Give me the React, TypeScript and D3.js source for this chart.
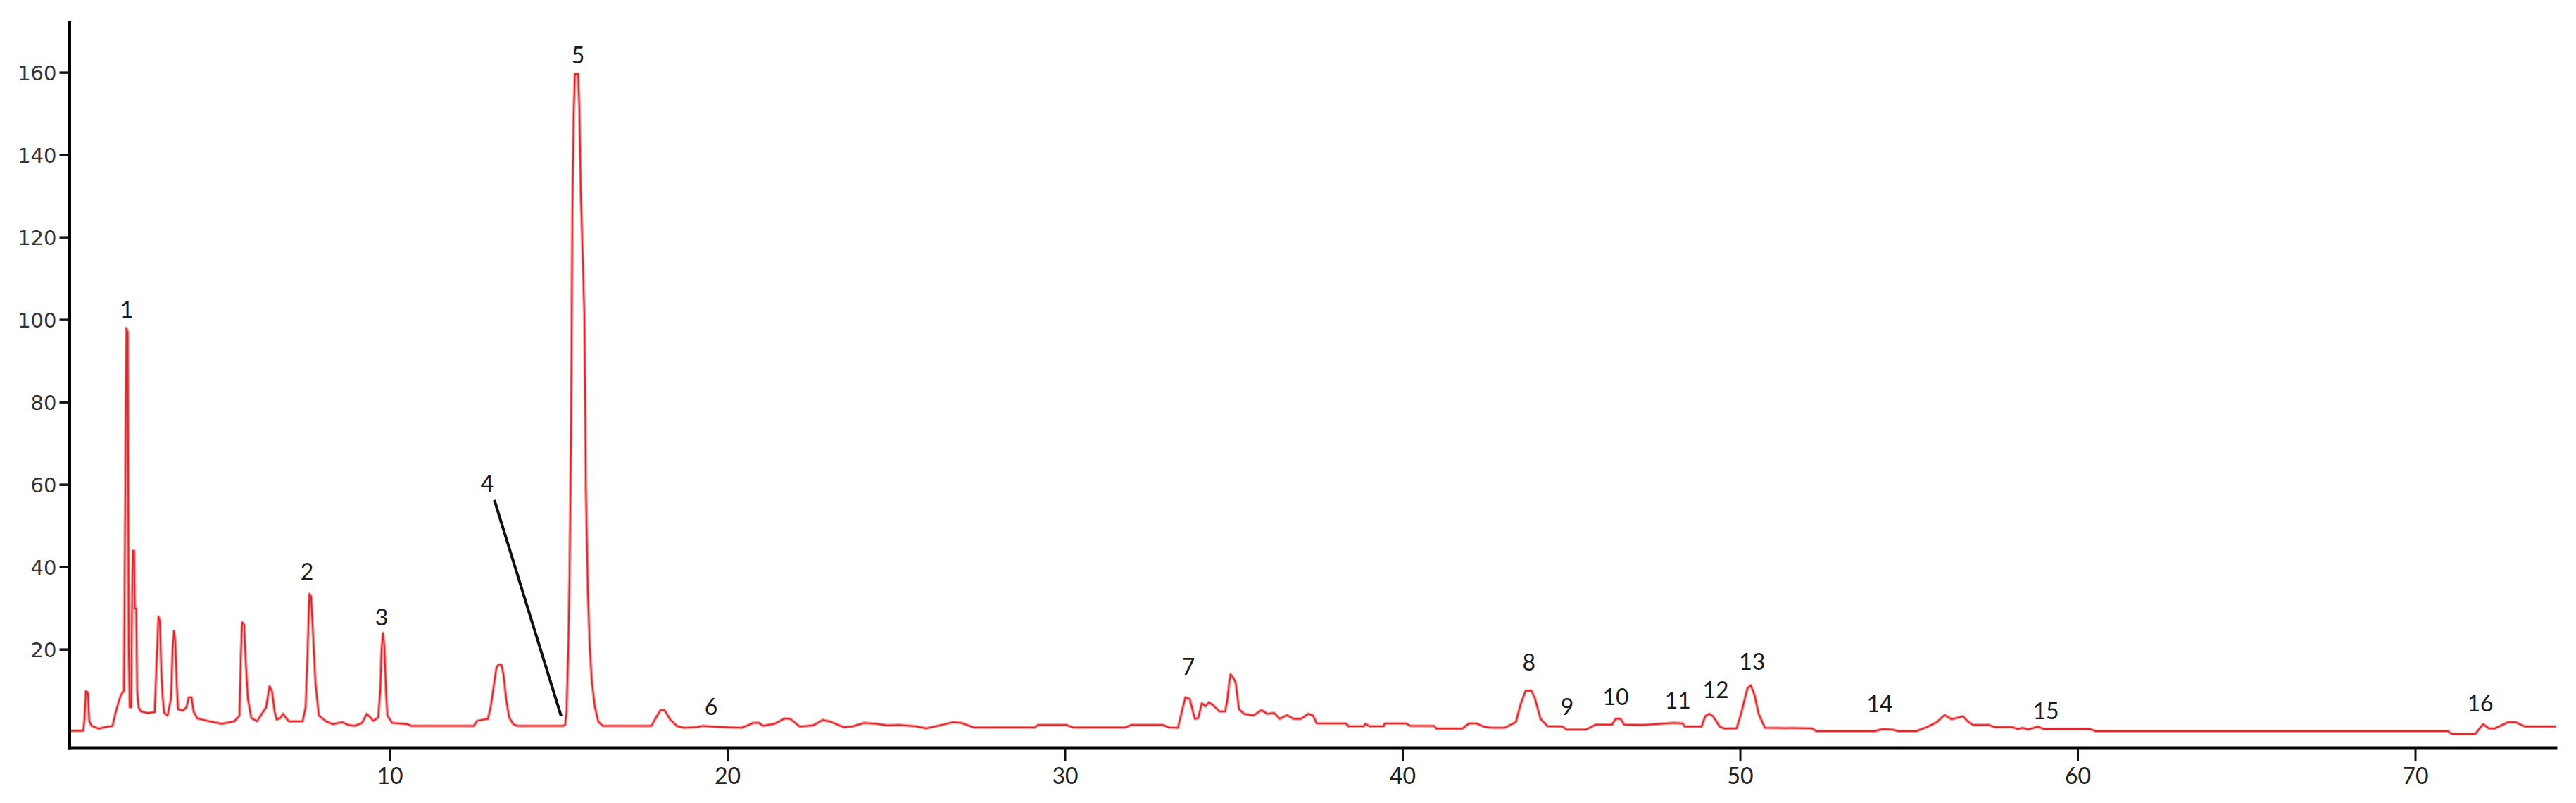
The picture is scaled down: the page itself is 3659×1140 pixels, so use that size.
import React, { useEffect } from "react";
import * as d3 from "d3";

// Chromatogram trace: retention time (min) and detector response
const times = [
  0.5, 0.91, 0.95, 0.99, 1.05, 1.09, 1.16, 1.37, 1.57, 1.78, 1.85, 1.95, 2.03, 2.12, 2.16, 2.19, 2.23, 2.26, 2.29, 2.33,
  2.36, 2.39, 2.42, 2.44, 2.48, 2.51, 2.55, 2.62, 2.83, 3.03, 3.1, 3.14, 3.18, 3.22, 3.26, 3.31, 3.41, 3.51, 3.56, 3.6,
  3.64, 3.68, 3.72, 3.87, 3.97, 4.04, 4.12, 4.18, 4.29, 4.64, 5.02, 5.39, 5.54, 5.58, 5.62, 5.68, 5.72, 5.79, 5.89, 6.06,
  6.33, 6.43, 6.5, 6.58, 6.64, 6.75, 6.83, 6.91, 7.0, 7.41, 7.5, 7.56, 7.61, 7.66, 7.73, 7.79, 7.89, 8.1, 8.31, 8.58,
  8.77, 8.96, 9.17, 9.31, 9.42, 9.5, 9.65, 9.71, 9.75, 9.79, 9.83, 9.88, 9.92, 10.06, 10.52, 10.63, 12.48, 12.58, 12.9, 12.98,
  13.07, 13.15, 13.21, 13.3, 13.36, 13.44, 13.53, 13.65, 13.77, 15.13, 15.19, 15.23, 15.28, 15.32, 15.36, 15.4, 15.44, 15.48, 15.57, 15.61,
  15.65, 15.71, 15.76, 15.8, 15.86, 15.92, 15.98, 16.07, 16.17, 16.3, 17.74, 17.88, 18.01, 18.13, 18.3, 18.51, 18.72, 19.09, 19.28, 19.51,
  20.41, 20.76, 20.93, 21.05, 21.39, 21.7, 21.85, 22.14, 22.53, 22.82, 23.05, 23.43, 23.68, 24.04, 24.41, 24.72, 25.08, 25.56, 25.89, 26.39,
  26.68, 26.93, 27.29, 29.1, 29.19, 30.04, 30.23, 31.77, 31.96, 32.9, 33.07, 33.34, 33.44, 33.56, 33.69, 33.84, 33.94, 34.05, 34.15, 34.26,
  34.38, 34.57, 34.74, 34.8, 34.86, 34.9, 34.99, 35.05, 35.15, 35.3, 35.57, 35.82, 35.98, 36.19, 36.36, 36.57, 36.76, 36.99, 37.2, 37.34,
  37.45, 38.32, 38.39, 38.84, 38.9, 39.01, 39.43, 39.47, 40.09, 40.22, 40.93, 41.0, 41.76, 41.97, 42.18, 42.39, 42.65, 43.01, 43.35, 43.49,
  43.64, 43.81, 43.91, 44.08, 44.29, 44.74, 44.85, 45.43, 45.72, 46.2, 46.31, 46.45, 46.56, 47.1, 48.04, 48.29, 48.35, 48.85, 48.96, 49.08,
  49.19, 49.39, 49.54, 49.89, 50.02, 50.21, 50.31, 50.42, 50.54, 50.73, 52.11, 52.25, 53.98, 54.21, 54.5, 54.67, 55.21, 55.53, 55.82, 56.05,
  56.26, 56.36, 56.59, 56.76, 56.9, 57.36, 57.53, 58.05, 58.22, 58.36, 58.53, 58.82, 58.99, 60.37, 60.53, 70.96, 71.08, 71.77, 72.0, 72.17,
  72.33, 72.75, 72.96, 73.25, 74.17,
];
const intensities = [
  0.3, 0.3, 3, 9.9, 9.5, 2.6, 1.5, 0.8, 1.2, 1.5, 4, 7, 9, 10, 60, 98, 97, 20, 6, 6,
  33, 44, 44, 30, 30, 10, 6, 5, 4.6, 4.8, 20, 28, 27, 16, 9, 4.6, 4, 8, 20, 24.5,
  22, 12, 5.5, 5.2, 6, 8.4, 8.4, 5, 3.3, 2.6, 2, 2.6, 4, 18, 26.6, 26, 18, 8, 3.4, 2.6,
  6, 11.1, 10, 5, 3, 3.4, 4.4, 3.5, 2.6, 2.6, 6, 20, 33.5, 33, 22, 12, 4, 2.6, 1.9, 2.4,
  1.7, 1.5, 2.2, 4.4, 3.5, 2.7, 3.5, 10, 20, 24, 21, 10, 4, 2.2, 1.9, 1.5, 1.5, 2.7, 3.2, 6,
  11, 15.5, 16.3, 16.3, 14, 8, 3.5, 1.9, 1.5, 1.5, 1.8, 5, 20, 39, 70, 125, 150, 159.7, 159.7, 151,
  131, 115, 100, 60, 34, 20, 12, 6, 2.5, 1.5, 1.5, 3.5, 5.3, 5.3, 3, 1.4, 1.0, 1.2, 1.5, 1.3,
  1.0, 2.2, 2.2, 1.5, 2, 3.3, 3.2, 1.3, 1.6, 2.9, 2.5, 1.2, 1.3, 2.2, 2.0, 1.6, 1.7, 1.4, 0.9, 1.8,
  2.4, 2.2, 1.1, 1.1, 1.7, 1.7, 1.1, 1.1, 1.7, 1.7, 1.1, 1.0, 4.4, 8.4, 8, 3.2, 3.4, 7, 6.2, 7.2,
  6.5, 5, 5, 7.5, 12, 14, 13, 12, 5.5, 4.4, 4.0, 5.3, 4.4, 4.6, 3.2, 4.1, 3.2, 3.2, 4.4, 4.0,
  2.1, 2.1, 1.4, 1.4, 2.0, 1.4, 1.4, 2.1, 2.1, 1.5, 1.5, 0.8, 0.8, 2.1, 2.1, 1.3, 1.0, 1.0, 2.4, 6.7,
  10, 10, 8.3, 3.2, 1.4, 1.3, 0.6, 0.6, 1.8, 1.8, 3.2, 3.2, 1.8, 1.7, 2.2, 2.1, 1.3, 1.3, 3.8, 4.4,
  3.8, 1.3, 0.8, 0.9, 4.4, 10.6, 11.3, 9, 4.4, 1.0, 0.9, 0.2, 0.2, 0.7, 0.6, 0.2, 0.2, 1.2, 2.4, 4.1,
  3.1, 3.3, 3.8, 2.4, 1.7, 1.7, 1.2, 1.2, 0.7, 1.0, 0.6, 1.3, 0.7, 0.7, 0.2, 0.2, -0.5, -0.5, 1.9, 0.9,
  0.8, 2.4, 2.4, 1.3, 1.3,
];

// Peak annotations (label, anchor time, anchor response)
const peakLabels = ["1", "2", "3", "4", "5", "6", "7", "8", "9", "10", "11", "12", "13", "14", "15", "16"];
const peakLabelTimes = [2.2, 7.54, 9.75, 12.88, 15.57, 19.51, 33.65, 43.74, 44.87, 46.31, 48.15, 49.27, 50.35, 54.13, 59.05, 71.92];
const peakLabelValues = [100.5, 36.9, 25.8, 58.3, 162.3, 4.1, 13.9, 14.9, 4.1, 6.5, 5.7, 8.2, 15.1, 4.8, 3.1, 5.0];

// Leader line for peak 4 (time, response) start and end
const leaderTimes = [13.09, 15.07];
const leaderValues = [56.3, 3.8];

const xTicks = [10, 20, 30, 40, 50, 60, 70];
const yTicks = [20, 40, 60, 80, 100, 120, 140, 160];

const W = 3659;
const H = 1140;

export default function App() {
  useEffect(() => {
    document.body.style.margin = "0";
  }, []);

  const x = d3.scaleLinear().domain([0.5, 74.2]).range([98.5, 3632.4]);
  const y = d3.scaleLinear().domain([-3.9, 172.5]).range([1062, 30]);

  const pts = times.map((t, i) => [t, intensities[i]] as [number, number]);
  const line = d3
    .line<[number, number]>()
    .x((d) => x(d[0]))
    .y((d) => y(d[1]));
  const path = line(pts) || "";

  const axisY = y(-3.9);
  const axisX = x(0.5);

  return (
    <svg width={W} height={H} style={{ display: "block", background: "#fff" }}>
      {/* trace */}
      <path d={path} fill="none" stroke="#f6a5a5" strokeWidth={4.5} strokeLinejoin="round" />
      <path d={path} fill="none" stroke="#e3262c" strokeWidth={2} strokeLinejoin="round" />

      {/* leader line for peak 4 */}
      <line
        x1={x(leaderTimes[0])}
        y1={y(leaderValues[0])}
        x2={x(leaderTimes[1])}
        y2={y(leaderValues[1])}
        stroke="#111"
        strokeWidth={4}
      />

      {/* peak labels */}
      {peakLabels.map((lab, i) => (
        <text
          key={lab}
          x={x(peakLabelTimes[i])}
          y={y(peakLabelValues[i])}
          textAnchor="middle"
          fontFamily="Lato, 'Open Sans', sans-serif"
          fontSize={32}
          fill="#1a1a1a"
        >
          {lab}
        </text>
      ))}

      {/* y axis */}
      <line x1={axisX} y1={30} x2={axisX} y2={axisY + 2.5} stroke="#000" strokeWidth={5} />
      {yTicks.map((v) => (
        <g key={v}>
          <line x1={axisX - 14} x2={axisX} y1={y(v)} y2={y(v)} stroke="#111" strokeWidth={3.5} />
          <text
            x={axisX - 18}
            y={y(v) + 10.5}
            textAnchor="end"
            fontFamily="'DejaVu Sans', Verdana, sans-serif"
            fontSize={29}
            fill="#333"
          >
            {v}
          </text>
        </g>
      ))}

      {/* x axis */}
      <line x1={axisX - 2.5} y1={axisY} x2={x(74.2)} y2={axisY} stroke="#000" strokeWidth={5} />
      {xTicks.map((t) => (
        <g key={t}>
          <line x1={x(t)} x2={x(t)} y1={axisY} y2={axisY + 18} stroke="#111" strokeWidth={3} />
          <text
            x={x(t)}
            y={axisY + 51}
            textAnchor="middle"
            fontFamily="Lato, 'Open Sans', sans-serif"
            fontSize={32}
            fill="#222"
          >
            {t}
          </text>
        </g>
      ))}
    </svg>
  );
}
